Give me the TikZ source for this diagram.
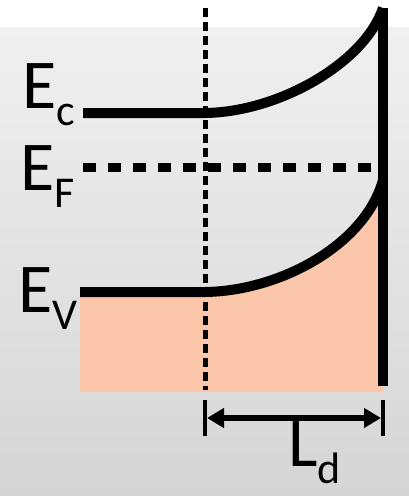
\documentclass[tikz,border=0pt]{standalone}
\usepackage{fontspec}
\setmainfont{Carlito}
\usetikzlibrary{positioning, arrows.meta, calc}
\definecolor{peach}{RGB}{251,198,170}
\definecolor{bgtop}{RGB}{240,240,240}
\definecolor{bgbot}{RGB}{213,213,213}
\tikzset{
  band/.style ={line width=10pt},
  fermi/.style={line width=9pt, dash pattern=on 13pt off 12pt},
  guide/.style={line width=5pt, dash pattern=on 9pt off 5pt},
  lbl/.style  ={anchor=base west, inner sep=0pt, font=\fontsize{70}{70}\selectfont}
}
\newcommand{\lowsub}[1]{\raisebox{-0.25em}{\fontsize{44}{44}\selectfont #1}}

\begin{document}
\begin{tikzpicture}[x=1pt, y=-1pt, >=latex]
  \useasboundingbox (0,0) rectangle (409,496);
  \fill[white] (0,0) rectangle (409,27);
  \fill[top color=bgtop, bottom color=bgbot] (0,27) rectangle (409,496);

  % levels
  \coordinate (cL) at (83,113);
  \coordinate (cM) at (205,113);
  \coordinate (cR) at (383,8);
  \coordinate (fL) at (83,167);
  \coordinate (fR) at (380,167);
  \coordinate (vL) at (80,292);
  \coordinate (vM) at (205,292);
  \coordinate (vR) at (383,180);
  \coordinate (wallT) at (383,8);
  \coordinate (wallB) at (383,386);

  \fill[peach] (vL) -- (vM) .. controls (280,291) and (365,245) .. (vR)
               -- (383,392) -- (80,392) -- cycle;

  \node[lbl] (Ec) at (22,108) {E\lowsub{c}};
  \node[lbl] (Ef) at (20,190) {E\lowsub{F}};
  \node[lbl] (Ev) at (18,312) {E\lowsub{V}};

  \draw[band] (cL) -- (cM) .. controls (280,112) and (365,62) .. (cR);
  \draw[fermi] (fL) -- (fR);
  \draw[band] (vL) -- (vM) .. controls (280,291) and (365,245) .. (vR);
  \draw[band] (wallT) -- (wallB);
  \draw[guide] (205,8) coordinate (gT) -- (205,390) coordinate (gB);

  % depletion width
  \coordinate (aL) at (205,418);
  \coordinate (aR) at (383,418);
  \draw[line width=4pt] ($(aL)+(0,-18)$) -- ($(aL)+(0,18)$);
  \draw[line width=4pt] ($(aR)+(0,-18)$) -- ($(aR)+(0,18)$);
  \draw[line width=6pt, {Triangle[length=17pt,width=19pt]}-{Triangle[length=17pt,width=19pt]}]
       ($(aL)+(2,0)$) -- ($(aR)+(-2,0)$);
  \node[lbl] (Ld) at (288,466) {L\lowsub{d}};
\end{tikzpicture}
\end{document}
